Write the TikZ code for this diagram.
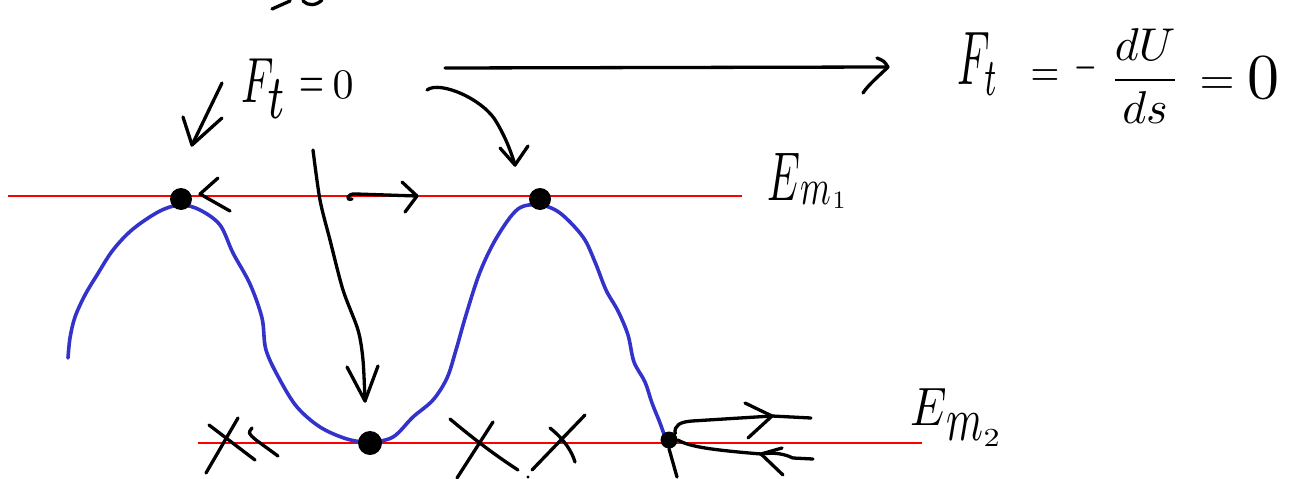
\documentclass[tikz,border=0pt]{standalone}
\usepackage{amsmath}
\usepackage{graphicx}
\definecolor{curveblue}{RGB}{51,51,204}
\begin{document}
\begin{tikzpicture}[x=1pt,y=-1pt,
  ink/.style={line width=3.3pt, line cap=round, line join=round},
  level/.style={red, line width=2.3pt},
  curve/.style={curveblue, line width=3.6pt, line cap=round, line join=round},
  dotnode/.style={circle, fill=black, inner sep=0pt, minimum size=#1},
  lbl/.style={inner sep=0pt, anchor=base west},
  sym/.style={inner sep=0pt, anchor=center}]
\useasboundingbox (0,0) rectangle (1298,479);

% energy levels
\coordinate (l1a) at (8,196);   \coordinate (l1b) at (742,196);
\coordinate (l2a) at (198,443); \coordinate (l2b) at (922,443);
\draw[level] (l1a) -- (l1b);
\draw[level] (l2a) -- (l2b);

% potential curve
\draw[curve] plot[smooth, tension=0.55] coordinates {(68,358) (70,338) (75,317) (85,295) (97,275) (113,250) (133,229) (160,211) (181,205) (200,210) (220,225) (233,253) (250,284) (262,318) (266,350) (280,380) (297,407) (320,427) (347,439) (370,442) (393,437) (413,417) (433,400) (447,378) (456,350) (466,315) (480,272) (497,237) (518,209) (540,205) (560,213) (583,237) (595,262) (606,290) (618,311) (628,335) (634,362) (645,382) (652,403) (660,423) (666,440)};

% points
\node[dotnode=22pt] (p1) at (181,199) {};
\node[dotnode=22pt] (p2) at (540,199) {};
\node[dotnode=24pt] (p3) at (370,443) {};
\node[dotnode=17pt] (p4) at (669,440) {};

% labels
\node[lbl] (ft) at (241,102) {\scalebox{4.16}[6.4]{$F_{\scalebox{1.4}{$\scriptstyle t$}}$}\hspace{12pt}\raisebox{4pt}{\scalebox{3.2}[5.5]{$=$}\hspace{8pt}\scalebox{4.2}{$0$}}};
\node[lbl] (rhsF) at (957,84) {\scalebox{4.18}[7.6]{$F_t$}};
\node[sym] (rhsEq1) at (1045,78) {\scalebox{3.7}[4.6]{$=$}};
\node[sym] (rhsMinus) at (1086,68) {\scalebox{2.9}[5]{$-$}};
\node[sym] (rhsFrac) at (1145,76) {\scalebox{4.6}{$\dfrac{dU}{ds}$}};
\node[sym] (rhsEq2) at (1217,86) {\scalebox{4.5}[4.6]{$=$}};
\node[lbl] (rhsZero) at (1247,98) {\scalebox{6.4}{$0$}};
\node[lbl] (em1) at (767,200) {\scalebox{4.14}[6.9]{$E$}\raisebox{-4pt}{\scalebox{3.5}[5.1]{$m$}}\hspace{2pt}\raisebox{-8pt}{\scalebox{2.5}{$1$}}};
\node[lbl] (em2) at (910,425) {\scalebox{4.59}[5.4]{$E$}\raisebox{-15pt}{\scalebox{4.2}[6.2]{$m$}}\raisebox{-21pt}{\scalebox{3.2}[2.6]{$2$}}};

% cut-off strokes at the top
\draw[ink] (272,9) -- (290,1);
\draw[ink] (303,1) .. controls (308,6) and (316,6) .. (322,0);

% arrow F_t=0 -> left peak
\coordinate (a1s) at (222,83); \coordinate (a1t) at (192,145);
\draw[ink] (a1s) -- (a1t);
\draw[ink] (183,117) -- (a1t) -- (222,118);

% long arrow -> formula
\coordinate (a2s) at (445,68); \coordinate (a2t) at (888,67);
\draw[ink] (a2s) -- (a2t);
\draw[ink] (877,58) .. controls (884,61) .. (a2t) .. controls (880,75) and (868,85) .. (863,93);

% curved arrow -> right peak
\coordinate (a3s) at (427,90); \coordinate (a3t) at (515,165);
\draw[ink] (a3s) .. controls (440,80) and (485,100) .. (497,123) .. controls (507,140) and (512,155) .. (a3t);
\draw[ink] (500,148) -- (a3t) -- (528,146);

% long arrow -> bottom
\coordinate (a4s) at (313,150); \coordinate (a4t) at (365,401);
\draw[ink] plot[smooth] coordinates {(a4s) (320,200) (330,240) (343,290) (358,330) (363,360) (a4t)};
\draw[ink] (347,367) -- (a4t) -- (378,366);

% small arrows at top level
\coordinate (b1t) at (200,194);
\draw[ink] (218,178) -- (b1t) -- (230,211);
\coordinate (b2s) at (352,199); \coordinate (b2t) at (417,196);
\draw[ink] (b2s) .. controls (345,201) and (347,193) .. (356,194) -- (b2t);
\draw[ink] (402,182) -- (b2t) -- (405,212);

% crosses on the lower level
\draw[ink] (238,418) -- (206,473);
\draw[ink] (209,425) -- (255,460);
\draw[ink] (252,428) .. controls (248,433) .. (256,440) -- (278,456);
\draw[ink] (493,422) -- (457,478);
\draw[ink] (450,419) .. controls (475,440) and (495,455) .. (518,470);
\draw[ink] (585,415) -- (532,470);
\draw[ink] (550,428) .. controls (565,440) and (572,452) .. (575,462);
\fill (528,477) circle (1.7pt);

% oscillation arrows at the lower point
\coordinate (c1t) at (772,416);
\draw[ink] (p4.north east) .. controls (674,425) and (680,422) .. (692,421) -- (c1t) -- (811,418);
\draw[ink] (745,403) -- (c1t) -- (748,438);
\coordinate (c2t) at (761,454);
\draw[ink] (p4.east) .. controls (690,447) and (713,450) .. (c2t) .. controls (770,453) and (780,452) .. (793,458) -- (813,459);
\draw[ink] (782,448) -- (c2t) -- (783,475);
\draw[ink] (p4.south) -- (677,477);
\end{tikzpicture}
\end{document}
